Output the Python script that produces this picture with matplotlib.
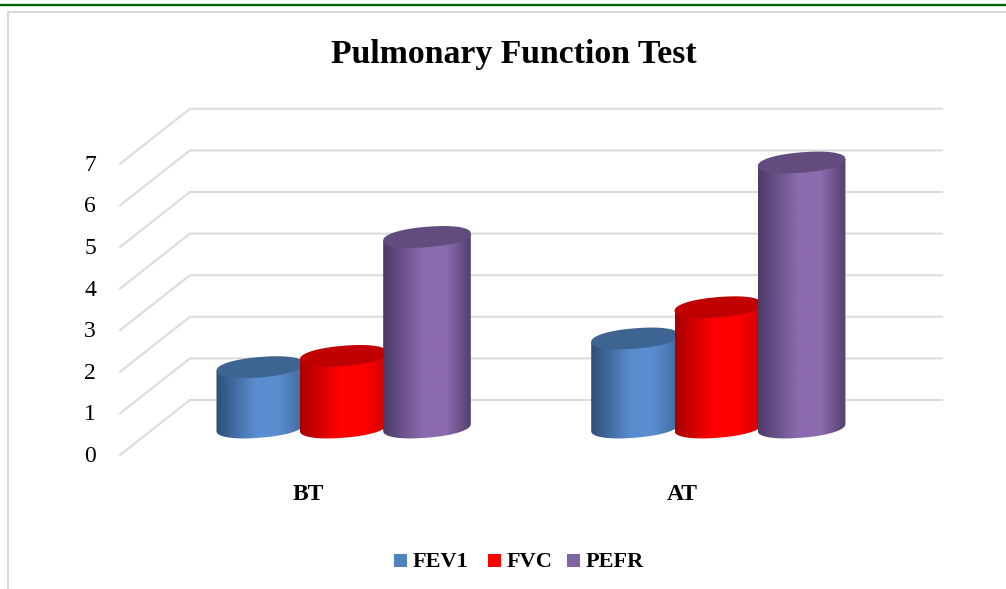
import numpy as np
import matplotlib
matplotlib.use('Agg')
import matplotlib.pyplot as plt
from matplotlib.colors import LinearSegmentedColormap
from matplotlib.patches import Polygon, Rectangle

categories = ['BT', 'AT']
series = ['FEV1', 'FVC', 'PEFR']
FEV1 = [1.45, 2.14]
FVC = [1.72, 2.89]
PEFR = [4.58, 6.37]
yticks = [0, 1, 2, 3, 4, 5, 6, 7]

W, H = 1006, 589
UNIT = 41.6       # px per y unit
Y0 = 455          # px of value 0 at front of floor
DX, DY = 70, 55   # depth of the 3d box
FONT = 'Liberation Serif'

colors = {
    'FEV1': dict(edge='#2d4f78', mid='#5a8dd0', right='#3f6a9c', top='#3e6591', key='#4f81bd'),
    'FVC': dict(edge='#a80000', mid='#ff0000', right='#d00000', top='#c00000', key='#ff0000'),
    'PEFR': dict(edge='#4c3a68', mid='#8a6bae', right='#54406f', top='#624c7e', key='#8064a2'),
}

fig = plt.figure(figsize=(W / 100, H / 100), dpi=100)
ax = fig.add_axes([0, 0, 1, 1])
# x in px, y in chart units, so bars come straight from the values
ylim = ((Y0 - H) / UNIT, Y0 / UNIT)
ax.set_xlim(0, W)
ax.set_ylim(*ylim)
ax.axis('off')

# page bits round the chart
ax.plot([0, W], [(Y0 - 5) / UNIT] * 2, color='#006400', lw=1.7, zorder=1)
ax.plot([8, 8, W], [ylim[0], (Y0 - 12) / UNIT, (Y0 - 12) / UNIT], color='#d9d9d9', lw=1.5, zorder=1)

# gridlines, back wall and side wall
for v in yticks:
    back = v + DY / UNIT
    ax.plot([120, 120 + DX, 942], [v, back, back], color='#dcdcdc', lw=1.5, zorder=2, solid_joinstyle='miter')
    ax.text(90, v - 1.5 / UNIT, str(v), family=FONT, fontsize=17, ha='center', va='center', color='black')

half_w = 43.8
skew = 3.5 / UNIT      # right side of the ellipse sits higher
b = 10.2 / UNIT
floor = DY / 2 / UNIT
t = np.linspace(0, 2 * np.pi, 121)
# slightly squared ellipse, the 3d render has fuller ends
cos_t = np.sign(np.cos(t)) * np.abs(np.cos(t)) ** 0.92
sin_t = np.sign(np.sin(t)) * np.abs(np.sin(t)) ** 0.92


def cylinder(cx, val, c, z):
    cols = LinearSegmentedColormap.from_list('c', [(0, c['edge']), (0.45, c['mid']), (0.72, c['mid']), (1, c['right'])])
    xs = cx + half_w * cos_t[60:]
    base = floor + skew * cos_t[60:] + b * sin_t[60:]
    body = np.column_stack([np.r_[xs, cx + half_w, cx - half_w], np.r_[base, floor + val + skew, floor + val - skew]])
    im = ax.imshow(np.linspace(0, 1, 200)[None, :], cmap=cols, aspect='auto', zorder=z,
                   extent=[cx - half_w, cx + half_w, floor - 1, floor + val + 1])
    im.set_clip_path(Polygon(body, closed=True, transform=ax.transData))
    lid = np.column_stack([cx + half_w * cos_t, floor + val + skew * cos_t + b * sin_t])
    ax.add_patch(Polygon(lid, closed=True, fc=c['top'], ec='none', zorder=z + 0.1))


centers = [[260.3, 343.7, 427.0], [635.0, 718.4, 801.6]]
label_x = [308, 682]
for i, cat in enumerate(categories):
    for j, (name, vals) in enumerate(zip(series, [FEV1, FVC, PEFR])):
        cylinder(centers[i][j], vals[i], colors[name], 5 + j)
    ax.text(label_x[i], (Y0 - 494) / UNIT, cat, family=FONT, fontsize=17, fontweight='bold',
            ha='center', va='center', color='black')

ax.set_xlim(0, W)
ax.set_ylim(*ylim)

ax.text(514, (Y0 - 55) / UNIT, 'Pulmonary Function Test', family=FONT, fontsize=24.3, fontweight='bold',
        ha='center', va='center', color='black')

# legend
leg_x = [394, 488, 567]
for name, x in zip(series, leg_x):
    ax.add_patch(Rectangle((x, (Y0 - 567) / UNIT), 13, 13 / UNIT, fc=colors[name]['key'], ec='none'))
    ax.text(x + 19, (Y0 - 562) / UNIT, name, family=FONT, fontsize=16, fontweight='bold', ha='left', va='center', color='black')

fig.savefig('out.png', dpi=100)
